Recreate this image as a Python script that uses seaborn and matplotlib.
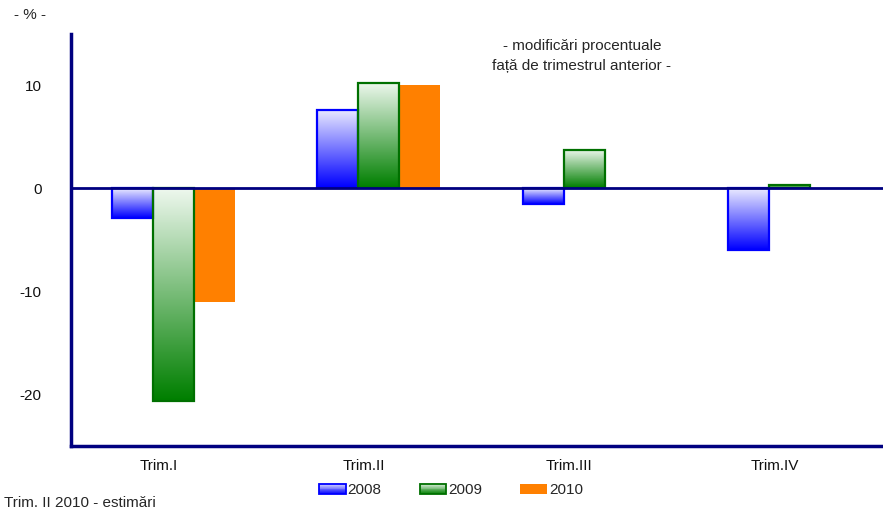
import numpy as np
import pandas as pd
import matplotlib
matplotlib.use("Agg")
import matplotlib.pyplot as plt
import matplotlib.transforms as mtransforms
import seaborn as sns
from matplotlib.patches import Rectangle, Patch
from matplotlib.legend_handler import HandlerBase
from matplotlib.colors import to_rgb

# ---- data ----
quarters = ["Trim.I", "Trim.II", "Trim.III", "Trim.IV"]
years = ["2008", "2009", "2010"]
v2008 = [-2.9, 7.6, -1.5, -6.0]
v2009 = [-20.6, 10.2, 3.7, 0.3]
v2010 = [-11.0, 10.0, np.nan, np.nan]
yticks = [-20, -10, 0, 10]

df = pd.DataFrame({
    "Trimestru": quarters * 3,
    "An": [y for y in years for _ in quarters],
    "Valoare": v2008 + v2009 + v2010,
})

sns.set_style("white")
plt.rcParams["font.family"] = ["Liberation Sans", "DejaVu Sans"]

FS = 11
base_cols = {"2008": "#0000FF", "2009": "#008000", "2010": "#FF8000"}
grad = {
    "2008": ((0.92, 0.92, 1.0), to_rgb("#0000FF"), "#0000FF"),
    "2009": ((0.93, 0.97, 0.93), to_rgb("#007F00"), "#007000"),
}

fig = plt.figure(figsize=(8.83, 5.12), dpi=100)
ax = fig.add_axes([71 / 883, 66 / 512, 821 / 883, 412.5 / 512])

sns.barplot(data=df, x="Trimestru", y="Valoare", hue="An", order=quarters,
            hue_order=years, palette=[base_cols[y] for y in years],
            width=0.6, saturation=1, legend=False, errorbar=None, ax=ax)

def gradient_img(top, bot, n=64):
    t = np.linspace(0, 1, n)[:, None]
    top = np.array(top); bot = np.array(bot)
    arr = top[None, :] * (1 - t) + bot[None, :] * t
    return arr[:, None, :]

n_q = len(quarters)
for i, p in enumerate(ax.patches):
    yr = years[i // n_q]
    h = p.get_height()
    if not np.isfinite(h) or h == 0:
        continue
    x0 = p.get_x(); w = p.get_width(); y0 = p.get_y()
    ylo, yhi = min(y0, y0 + h), max(y0, y0 + h)
    if yr in grad:
        top, bot, ec = grad[yr]
        p.set_facecolor("none")
        p.set_edgecolor(ec)
        p.set_linewidth(1.6)
        p.set_zorder(2)
        ax.imshow(gradient_img(top, bot), extent=(x0, x0 + w, ylo, yhi),
                  aspect="auto", origin="upper", zorder=1.5, interpolation="bilinear")
    else:
        p.set_edgecolor("none")
        p.set_zorder(1.5)

ax.axhline(0, color="#000080", lw=2, zorder=3)
ax.set_xlim(-0.5, 3.5)
ax.set_ylim(-25, 15)
ax.set_yticks(yticks)
ax.set_yticklabels([str(v) for v in yticks])
ax.set_xlabel("")
ax.set_ylabel("")
ax.tick_params(axis="y", length=0, pad=21, labelsize=FS, labelcolor="#111111")
ax.tick_params(axis="x", length=0, pad=9, labelsize=FS, labelcolor="#111111")
shift = mtransforms.ScaledTranslation(-15 / 100, 0, fig.dpi_scale_trans)
for lab in ax.get_xticklabels():
    lab.set_transform(lab.get_transform() + shift)
for s in ["top", "right"]:
    ax.spines[s].set_visible(False)
for s in ["left", "bottom"]:
    ax.spines[s].set_color("#000080")
    ax.spines[s].set_linewidth(2.5)
ax.set_facecolor("white")

# legend with gradient handles
class GradHandler(HandlerBase):
    def __init__(self, top, bot, ec, solid=None):
        super().__init__()
        self.top, self.bot, self.ec, self.solid = top, bot, ec, solid
    def create_artists(self, legend, orig_handle, xdescent, ydescent, width, height, fontsize, trans):
        arts = []
        if self.solid is not None:
            arts.append(Rectangle((-xdescent, -ydescent), width, height, facecolor=self.solid,
                                  edgecolor="none", transform=trans))
            return arts
        n = 12
        top = np.array(self.top); bot = np.array(self.bot)
        for k in range(n):
            t = (k + 0.5) / n
            c = top * (1 - t) + bot * t
            yb = -ydescent + height * (1 - (k + 1) / n)
            arts.append(Rectangle((-xdescent, yb), width, height / n + 0.05, facecolor=c,
                                  edgecolor="none", transform=trans))
        arts.append(Rectangle((-xdescent, -ydescent), width, height, facecolor="none",
                              edgecolor=self.ec, lw=1.3, transform=trans))
        return arts

handles = [Patch(label=y) for y in years]
hmap = {
    handles[0]: GradHandler(*grad["2008"]),
    handles[1]: GradHandler(*grad["2009"]),
    handles[2]: GradHandler(None, None, None, solid="#FF8000"),
}
fig.legend(handles=handles, labels=years, handler_map=hmap, loc="center",
           bbox_to_anchor=(451 / 883, 1 - 490 / 512), ncol=3, frameon=False,
           fontsize=FS, handlelength=1.75, handleheight=0.65, handletextpad=0.12,
           columnspacing=2.5)

fig.text(30 / 883, 1 - 15 / 512, "- % -", ha="center", va="center", fontsize=FS)
fig.text(582 / 883, 1 - 46 / 512, "- modificări procentuale", ha="center", va="center", fontsize=FS)
fig.text(582 / 883, 1 - 66 / 512, "față de trimestrul anterior -", ha="center", va="center", fontsize=FS)
fig.text(4 / 883, 1 - 503 / 512, "Trim. II 2010 - estimări", ha="left", va="center", fontsize=FS)

fig.savefig("out.png", dpi=100, facecolor="white")
